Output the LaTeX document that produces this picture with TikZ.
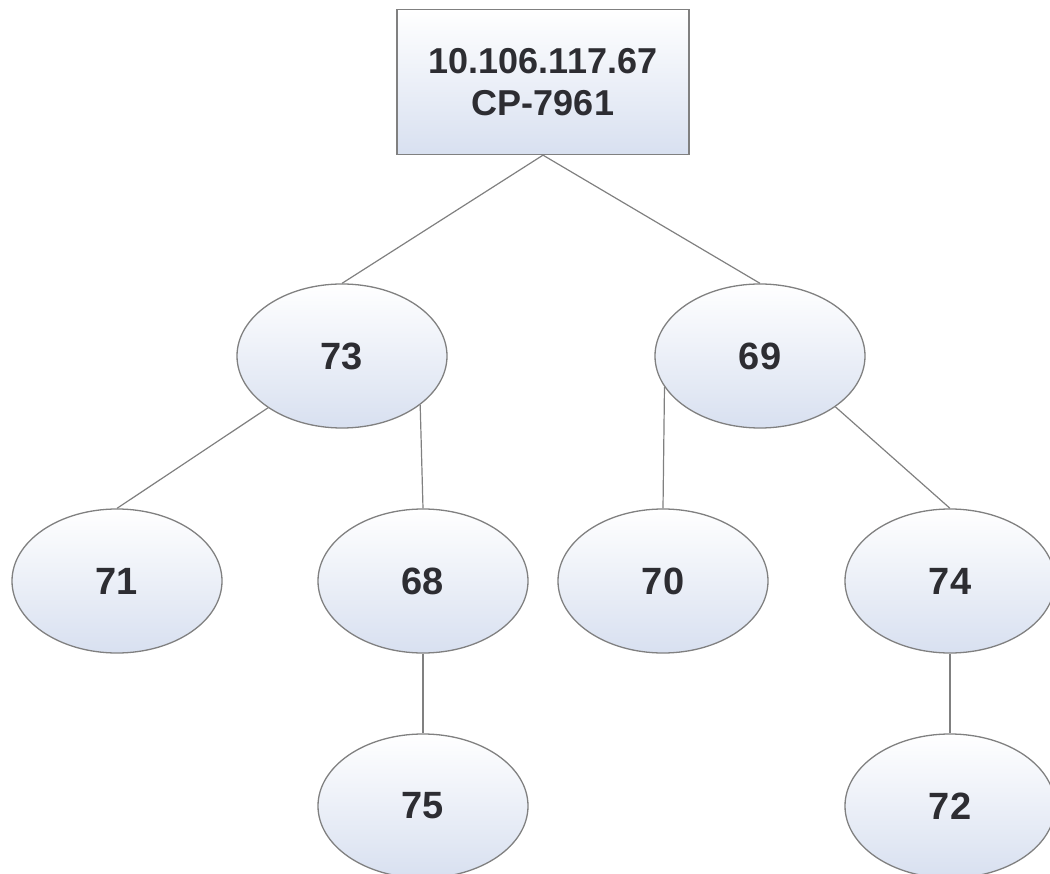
\documentclass[tikz,border=0pt]{standalone}
\usepackage{fontspec}
\setmainfont{Liberation Sans}
\usepackage{tikz}
\usetikzlibrary{shapes.geometric}

\definecolor{nodeline}{RGB}{128,128,128}
\definecolor{nodefill}{RGB}{216,224,240}
\definecolor{textgrey}{RGB}{45,45,50}

\tikzset{
  phone/.style={draw=nodeline, line width=1.3pt, top color=white, bottom color=nodefill,
    minimum width=292pt, minimum height=145pt, inner sep=0pt, align=center,
    font=\fontsize{36}{42}\selectfont\bfseries, text=textgrey},
  ext/.style={ellipse, draw=nodeline, line width=1.3pt, top color=white, bottom color=nodefill,
    minimum width=210pt, minimum height=144pt, inner sep=0pt,
    font=\fontsize{38}{40}\selectfont\bfseries, text=textgrey},
  link/.style={draw=nodeline, line width=1.2pt}
}

\begin{document}
\begin{tikzpicture}[x=1pt, y=-1pt]
    \useasboundingbox (0,0) rectangle (1050,874);
    \node[phone] (root) at (543,82) {10.106.117.67\\CP-7961};
    \node[ext] (n73) at (342,356) {73};
    \node[ext] (n69) at (760,356) {69};
    \node[ext] (n71) at (117,581) {71};
    \node[ext] (n68) at (423,581) {68};
    \node[ext] (n70) at (663,581) {70};
    \node[ext] (n74) at (950,581) {74};
    \node[ext] (n75) at (423,806) {75};
    \node[ext] (n72) at (950,806) {72};
    \path[link]
    (root.south) edge (n73.north)
    (root.south) edge (n69.north)
    (n73.215) edge (n71.north)
    (n73.-32) edge (n68.north)
    (n69.198) edge (n70.north)
    (n69.-34) edge (n74.north)
    (n68.south) edge (n75.north)
    (n74.south) edge (n72.north);
\end{tikzpicture}
\end{document}
